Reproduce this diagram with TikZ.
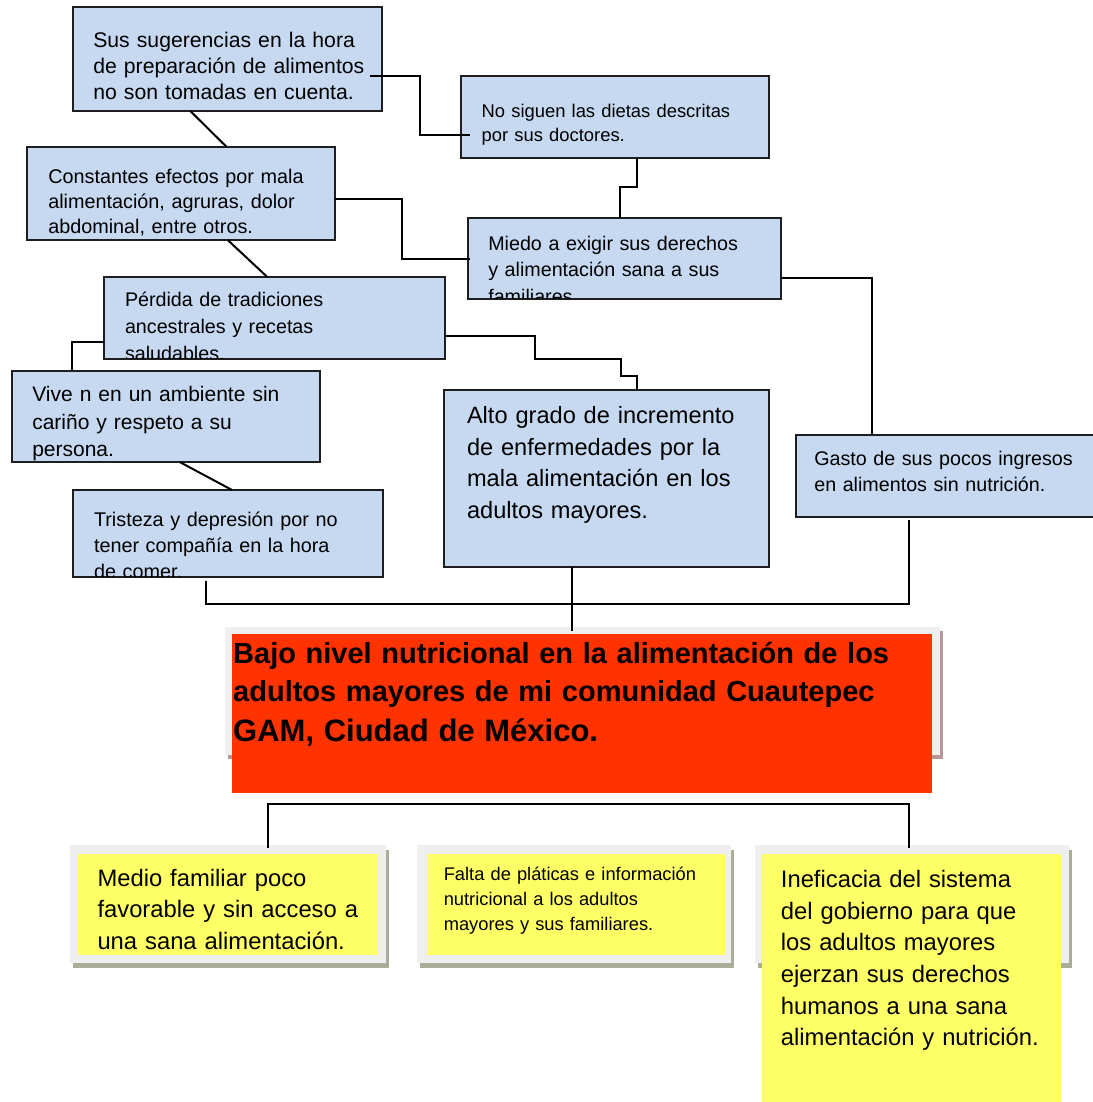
\documentclass[tikz,border=0pt]{standalone}
\usepackage{fontspec}
\setmainfont{Liberation Sans}
\definecolor{boxblue}{HTML}{C6D9F1}
\definecolor{boxborder}{HTML}{1E1E1E}
\definecolor{redfill}{HTML}{FF3300}
\definecolor{framegrey}{HTML}{EFEFEF}
\definecolor{redshadow}{HTML}{B99696}
\definecolor{yelfill}{HTML}{FFFF66}
\definecolor{yelshadow}{HTML}{A9AE98}
\tikzset{
  bluebox/.style={draw=boxborder, line width=2pt, fill=boxblue, inner sep=0pt, outer sep=0pt, anchor=north west},
  plainbox/.style={inner sep=0pt, outer sep=0pt, anchor=north west, draw=none},
  txt/.style={inner sep=0pt, outer sep=0pt, text width=420pt, align=left, anchor=base west, text=black},
  conn/.style={draw=black, line width=2pt}
}
\begin{document}
\begin{tikzpicture}[x=1pt,y=-1pt]
\useasboundingbox[fill=white] (0,0) rectangle (1092,1102);

% ---------- blue boxes ----------
\node[bluebox, minimum width=308.4pt, minimum height=104.3pt] (sus) at (73.3,6.7) {};
\node[bluebox, minimum width=308pt, minimum height=82pt] (nos) at (461,76) {};
\node[bluebox, minimum width=308.3pt, minimum height=93pt] (cons) at (26.7,147) {};
\node[bluebox, minimum width=313pt, minimum height=81pt] (mie) at (468,218) {};
\node[bluebox, minimum width=340.7pt, minimum height=82pt] (per) at (104.3,277) {};
\node[bluebox, minimum width=308.3pt, minimum height=91pt] (viv) at (11.7,371) {};
\node[bluebox, minimum width=309.4pt, minimum height=87pt] (tri) at (73.3,490) {};
\node[bluebox, minimum width=325pt, minimum height=177pt] (alt) at (444,390) {};
\node[bluebox, minimum width=310pt, minimum height=82pt] (gas) at (796,435) {};

% ---------- texts of blue boxes ----------
\node[txt, font=\fontsize{21.2}{26}\selectfont] (tsus) at (93.3,48) {Sus sugerencias en la hora\\de preparación de alimentos\\no son tomadas en cuenta.};
\node[txt, font=\fontsize{18.4}{24.3}\selectfont] (tnos) at (481.7,117.3) {No siguen las dietas descritas\\por sus doctores.};
\node[txt, font=\fontsize{19.8}{24.5}\selectfont] (tcons) at (48.3,184) {Constantes efectos por mala\\alimentación, agruras, dolor\\abdominal, entre otros.};
\begin{scope}
  \clip ([yshift=1]mie.south west) rectangle (mie.north east);
  \node[txt, font=\fontsize{19.7}{26.7}\selectfont] (tmie) at (488.3,250) {Miedo a exigir sus derechos\\y alimentación sana a sus\\familiares.};
\end{scope}
\begin{scope}
  \clip ([yshift=1]per.south west) rectangle (per.north east);
  \node[txt, font=\fontsize{19.7}{27}\selectfont] (tper) at (125,306.7) {Pérdida de tradiciones\\ancestrales y recetas\\saludables.};
\end{scope}
\node[txt, font=\fontsize{21}{27.5}\selectfont] (tviv) at (32.3,401.7) {Vive n en un ambiente sin\\cariño y respeto a su\\persona.};
\begin{scope}
  \clip ([yshift=1]tri.south west) rectangle (tri.north east);
  \node[txt, font=\fontsize{19.8}{26.3}\selectfont] (ttri) at (94,526) {Tristeza y depresión por no\\tener compañía en la hora\\de comer.};
\end{scope}
\node[txt, font=\fontsize{23.6}{31.7}\selectfont] (talt) at (467,423.3) {Alto grado de incremento\\de enfermedades por la\\mala alimentación en los\\adultos mayores.};
\node[txt, font=\fontsize{19.7}{25.3}\selectfont] (tgas) at (814.3,465.7) {Gasto de sus pocos ingresos\\en alimentos sin nutrición.};

% ---------- red problem box ----------
\node[plainbox, fill=redshadow, minimum width=715pt, minimum height=128pt] (redsh) at (228,631) {};
\node[plainbox, fill=framegrey, minimum width=715pt, minimum height=128pt] (redf) at (225,627) {};
\node[plainbox, fill=redfill, minimum width=700pt, minimum height=159pt] (red) at (232,634) {};
\node[txt, text width=800pt, font=\bfseries\fontsize{29}{38.4}\selectfont] (tred) at (233.2,663.3) {Bajo nivel nutricional en la alimentación de los\\adultos mayores de mi comunidad Cuautepec\par{\fontsize{31}{40}\selectfont GAM, Ciudad de México.\par}};

% ---------- yellow boxes ----------
\node[plainbox, fill=yelshadow, minimum width=316pt, minimum height=118pt] (y1s) at (73,850) {};
\node[plainbox, fill=framegrey, minimum width=316pt, minimum height=118pt] (y1f) at (70,845) {};
\node[plainbox, fill=yelfill, minimum width=300pt, minimum height=101pt] (y1) at (78,854) {};
\node[plainbox, fill=yelshadow, minimum width=314.3pt, minimum height=118pt] (y2s) at (419.7,850) {};
\node[plainbox, fill=framegrey, minimum width=314.3pt, minimum height=118pt] (y2f) at (416.7,845) {};
\node[plainbox, fill=yelfill, minimum width=298pt, minimum height=101pt] (y2) at (427,854) {};
\node[plainbox, fill=yelshadow, minimum width=314pt, minimum height=118pt] (y3s) at (758,850) {};
\node[plainbox, fill=framegrey, minimum width=314pt, minimum height=118pt] (y3f) at (755,845) {};
\node[plainbox, fill=yelfill, minimum width=299pt, minimum height=250pt] (y3) at (762,854) {};

\node[txt, font=\fontsize{23.8}{31.7}\selectfont] (ty1) at (97.5,886) {Medio familiar poco\\favorable y sin acceso a\\una sana alimentación.};
\node[txt, font=\fontsize{18.3}{24.7}\selectfont] (ty2) at (443.8,880.7) {Falta de pláticas e información\\nutricional a los adultos\\mayores y sus familiares.};
\node[txt, font=\fontsize{23.8}{31.6}\selectfont] (ty3) at (780.9,887.7) {Ineficacia del sistema\\del gobierno para que\\los adultos mayores\\ejerzan sus derechos\\humanos a una sana\\alimentación y nutrición.};

% ---------- connectors ----------
\draw[conn] ([xshift=-12,yshift=35]sus.south east) -- ++(50,0) |- ([xshift=9,yshift=23]nos.south west);
\draw[conn] ([xshift=117]sus.south west) -- ([xshift=200]cons.north west);
\draw[conn] ([xshift=201]cons.south west) -- ([xshift=163]per.north west);
\draw[conn] ([yshift=-5.5]cons.east) -- ++(67,0) |- ([xshift=2]mie.west);
\draw[conn] ([xshift=22]nos.south) -- ++(0,29) -| ([xshift=-4.5]mie.north);
\draw[conn] ([yshift=-19.5]mie.east) -| ([xshift=76]gas.north west);
\draw[conn] ([yshift=-18]per.east) -- ++(90,0) -- ++(0,23) -- ++(86,0) -- ++(0,17) -| ([xshift=30.5]alt.north);
\draw[conn] ([yshift=-24]per.west) -| ([xshift=60]viv.north west);
\draw[conn] ([xshift=168]viv.south west) -- ([xshift=158.7]tri.north west);
\draw[conn] ([xshift=132.7,yshift=-4]tri.south west) |- ([xshift=113,yshift=-87]gas.south west) -- ([xshift=113,yshift=-3]gas.south west);
\draw[conn] ([xshift=-34.5]alt.south) -- ([xshift=-10,yshift=3]red.north);
\draw[conn] ([xshift=198,yshift=-3]y1f.north west) |- ([xshift=154,yshift=41]y3f.north west) -- ([xshift=154,yshift=-3]y3f.north west);
\end{tikzpicture}
\end{document}
